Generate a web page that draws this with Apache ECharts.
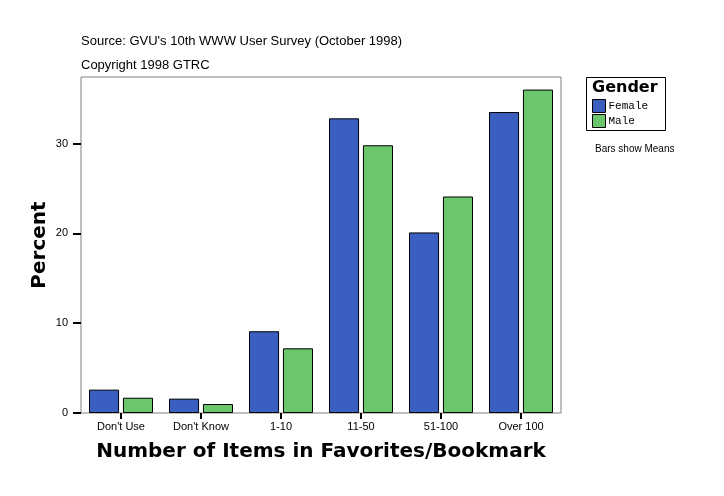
<!DOCTYPE html>
<html><head><meta charset="utf-8">
<script src="https://cdn.jsdelivr.net/npm/echarts@6/dist/echarts.min.js"></script>
<style>html,body{margin:0;padding:0;background:#fff}#c{width:724px;height:496px}</style>
</head><body><div id="c"></div>
<script>
const categories = ["Don't Use", "Don't Know", "1-10", "11-50", "51-100", "Over 100"];
const female = [2.6, 1.6, 9.1, 32.8, 20.1, 33.5];
const male = [1.7, 1.0, 7.2, 29.8, 24.1, 36.0];
const yTicks = [0, 10, 20, 30];

const chart = echarts.init(document.getElementById('c'));
const F = 'Liberation Sans, Arial, sans-serif';
chart.setOption({
  animation: false,
  backgroundColor: '#fff',
  title: [
    {text: "Source: GVU's 10th WWW User Survey (October 1998)", left: 76, top: 30,
     textStyle: {fontFamily: F, fontSize: 13, fontWeight: 'normal', color: '#000'}},
    {text: 'Copyright 1998 GTRC', left: 76, top: 54,
     textStyle: {fontFamily: F, fontSize: 13, fontWeight: 'normal', color: '#000'}}
  ],
  grid: {left: 81, right: 163, top: 77, bottom: 83, show: true, borderColor: '#808080', borderWidth: 1, containLabel: false},
  legend: {
    orient: 'vertical', left: 587, top: 94, itemWidth: 13, itemHeight: 13, itemGap: 1, icon: 'rect',
    textStyle: {fontFamily: 'Liberation Mono, Courier New, monospace', fontSize: 11, color: '#000', padding: [0,0,0,-2]},
    data: [
      {name: 'Female', itemStyle: {borderColor: '#000', borderWidth: 1}},
      {name: 'Male', itemStyle: {borderColor: '#000', borderWidth: 1}}
    ]
  },
  graphic: [
    {type: 'rect', shape: {x: 586.5, y: 77.5, width: 79, height: 53}, style: {fill: 'none', stroke: '#000', lineWidth: 1}},
    {type: 'text', x: 592, y: 80, style: {text: 'Gender', font: 'bold 16px DejaVu Sans, sans-serif', fill: '#000'}},
    {type: 'text', x: 595, y: 144, style: {text: 'Bars show Means', font: '10px Liberation Sans, Arial, sans-serif', fill: '#000'}}
  ],
  xAxis: {
    type: 'category', data: categories,
    name: 'Number of Items in Favorites/Bookmark', nameLocation: 'middle', nameGap: 29, nameMoveOverlap: false,
    nameTextStyle: {fontFamily: 'DejaVu Sans, sans-serif', fontWeight: 'bold', fontSize: 20, color: '#000'},
    axisLine: {show: false},
    axisTick: {show: true, alignWithLabel: true, length: 6, lineStyle: {color: '#000', width: 2}},
    axisLabel: {fontFamily: F, fontSize: 11, color: '#000', margin: 8, interval: 0}
  },
  yAxis: {
    type: 'value', min: 0, max: 37.4, interval: 10,
    name: 'Percent', nameLocation: 'middle', nameGap: 31, nameRotate: 90, nameMoveOverlap: false,
    nameTextStyle: {fontFamily: 'DejaVu Sans, sans-serif', fontWeight: 'bold', fontSize: 20, color: '#000'},
    axisLine: {show: false},
    axisTick: {show: true, length: 8, customValues: yTicks, lineStyle: {color: '#000', width: 2}},
    splitLine: {show: false},
    axisLabel: {fontFamily: F, fontSize: 11, color: '#000', margin: 13, customValues: yTicks,
      formatter: v => yTicks.includes(v) ? String(v) : ''}
  },
  series: [
    {name: 'Female', type: 'bar', data: female, barGap: '13%', barCategoryGap: '20%',
     itemStyle: {color: '#3A5FC0', borderColor: '#000', borderWidth: 1}},
    {name: 'Male', type: 'bar', data: male,
     itemStyle: {color: '#6CC76C', borderColor: '#000', borderWidth: 1}}
  ]
});
</script></body></html>
